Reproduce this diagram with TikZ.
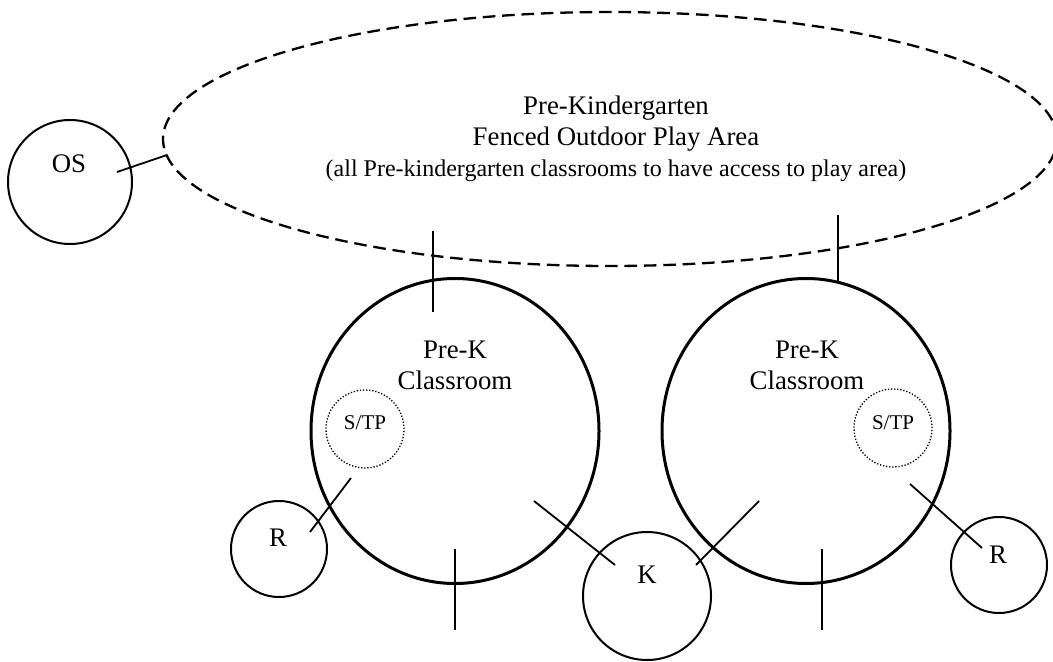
\documentclass[tikz,border=0pt]{standalone}
\usepackage{fontspec}
\setmainfont{Liberation Serif}
\usetikzlibrary{shapes.geometric}
\newcommand*\px{0.5pt}
\tikzset{
    playarea/.style = {draw, ellipse, line width=1.15pt,
                      dash pattern=on 6.3pt off 3.4pt,
                      minimum width=894*\px, minimum height=254*\px, inner sep=0pt},
    room/.style     = {draw, ellipse, line width=1.5pt,
                      minimum width=288*\px, minimum height=305*\px, inner sep=0pt},
    spot/.style     = {draw, circle, line width=1pt, inner sep=0pt},
    stpcell/.style  = {draw, circle, line width=0.65pt, dash pattern=on 0.65pt off 0.9pt,
                      minimum size=78*\px, inner sep=0pt},
    door/.style     = {line width=0.9pt},
    bigtext/.style  = {font=\fontsize{13.4}{15.6}\selectfont, align=center, inner sep=0pt},
    smalltext/.style= {font=\fontsize{10.5}{12}\selectfont, inner sep=0pt},
  }

\begin{document}
\begin{tikzpicture}[x=\px, y=-\px]
    \useasboundingbox (0,0) rectangle (1053,662);

    % fenced play area and outside space
    \node (play) [playarea] at (610,139) {};
    \node (os)   [spot, minimum size=124*\px] at (70,182) {};

    % the two classrooms with their S/TP spots
    \node (lroom) [room] at (455,431) {};
    \node (rroom) [room] at (806,431) {};
    \node (lstp)  [stpcell] at (365,429) {};
    \node (rstp)  [stpcell] at (893,428) {};

    % restrooms and kitchen
    \node (lr) [spot, minimum size=96*\px]  at (279,549) {};
    \node (rr) [spot, minimum size=96*\px]  at (999,565) {};
    \node (k)  [spot, minimum size=128*\px] at (647,596) {};

    % texts
    \node (playtxt) [bigtext] at (616,139)
        {Pre-Kindergarten\\Fenced Outdoor Play Area\\
         {\fontsize{12}{14}\selectfont (all Pre-kindergarten classrooms to have access to play area)}};
    \node (lroomtxt) [bigtext] at (455,365) {Pre-K\\Classroom};
    \node (rroomtxt) [bigtext] at (807,365) {Pre-K\\Classroom};
    \node (ostxt)    [bigtext] at (69,164)  {OS};
    \node (lrtxt)    [bigtext] at (278,538) {R};
    \node (rrtxt)    [bigtext] at (998,555) {R};
    \node (ktxt)     [bigtext] at (647,575) {K};
    \node (lstptxt)  [smalltext] at (365,423) {S/TP};
    \node (rstptxt)  [smalltext] at (893,423) {S/TP};

    % door ends
    \coordinate (os-in)    at (117,172);
    \coordinate (play-os)  at (167,155);
    \coordinate (play-l)   at (433,231);
    \coordinate (lroom-up) at (433,312);
    \coordinate (play-r)   at (838,215);
    \coordinate (rroom-up) at (838,282);
    \coordinate (lstp-out) at (351,478);
    \coordinate (lr-in)    at (310,532);
    \coordinate (lroom-k)  at (534,501);
    \coordinate (k-l)      at (615,565);
    \coordinate (rroom-k)  at (759,501);
    \coordinate (k-r)      at (696,565);
    \coordinate (rstp-out) at (910,484);
    \coordinate (rr-in)    at (982,548);
    \coordinate (lroom-in) at (455,549);
    \coordinate (lroom-out) at (455,630);
    \coordinate (rroom-in) at (822,549);
    \coordinate (rroom-out) at (822,630);

    % door lines
    \foreach \a/\b in {os-in/play-os, play-l/lroom-up, play-r/rroom-up,
                       lstp-out/lr-in, lroom-k/k-l, rroom-k/k-r, rstp-out/rr-in,
                       lroom-in/lroom-out, rroom-in/rroom-out} {
        \draw[door] (\a) -- (\b);
    }
\end{tikzpicture}
\end{document}
